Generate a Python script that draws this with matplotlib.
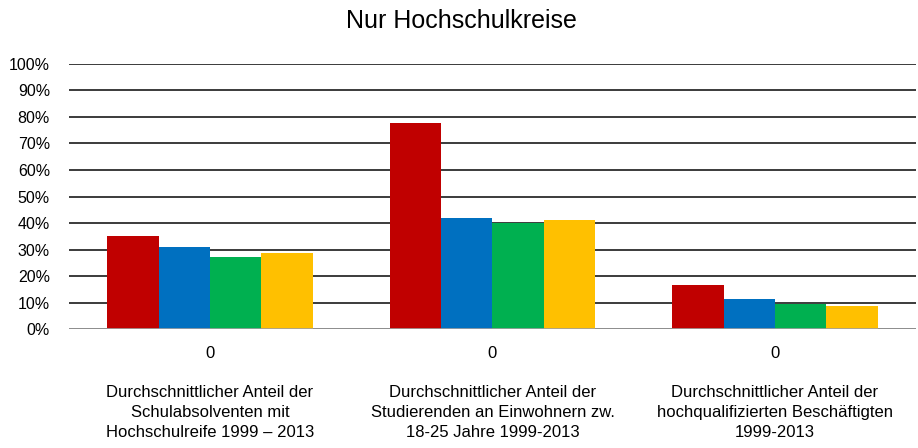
import matplotlib.pyplot as plt
import numpy as np

plt.rcParams['font.family'] = ['Liberation Sans', 'DejaVu Sans']

categories = [
    'Durchschnittlicher Anteil der\nSchulabsolventen mit\nHochschulreife 1999 \u2013 2013',
    'Durchschnittlicher Anteil der\nStudierenden an Einwohnern zw.\n18-25 Jahre 1999-2013',
    'Durchschnittlicher Anteil der\nhochqualifizierten Beschäftigten\n1999-2013',
]
tick_text = ['0', '0', '0']
red_vals = [35.1, 77.8, 16.6]
blue_vals = [30.9, 41.9, 11.3]
green_vals = [27.2, 40.0, 9.4]
yellow_vals = [28.6, 41.0, 8.8]

series = [red_vals, blue_vals, green_vals, yellow_vals]
colors = ['#C00000', '#0070C0', '#00B050', '#FFC000']

fig = plt.figure(figsize=(9.18, 4.48), dpi=100)
ax = fig.add_axes([68.7 / 918, 1 - 329.3 / 448, 847.6 / 918, (329.3 - 63.7) / 448])

x = np.arange(len(categories))
w = 0.727 / 4
for i, (vals, c) in enumerate(zip(series, colors)):
    ax.bar(x + (i - 1.5) * w, vals, width=w, color=c, zorder=3)

ax.set_xlim(-0.5, 2.5)
ax.set_ylim(0, 100)
ax.set_yticks(np.arange(0, 101, 10))
ax.set_yticklabels([f'{v}%' for v in range(0, 101, 10)], fontsize=11.5)
ax.yaxis.grid(True, color='#1a1a1a', linewidth=1.2, zorder=0)
ax.tick_params(axis='y', length=0, pad=13.5)
ax.tick_params(axis='x', length=0)
ax.set_xticks([])
for s in ax.spines.values():
    s.set_visible(False)
ax.axhline(0, color='#a0a0a0', linewidth=1.2, zorder=4)

for xi, t, cat in zip(x, tick_text, categories):
    ax.annotate(t, xy=(xi, 0), xycoords=('data', 'axes fraction'),
                xytext=(0, -24), textcoords='offset pixels',
                ha='center', va='center', fontsize=12)
    ax.annotate(cat, xy=(xi, 0), xycoords=('data', 'axes fraction'),
                xytext=(0, -83), textcoords='offset pixels',
                ha='center', va='center', fontsize=12, linespacing=1.4)

fig.text(461 / 918, 1 - 21 / 448, 'Nur Hochschulkreise', ha='center', va='center', fontsize=18)

fig.savefig('out.png', dpi=100)
